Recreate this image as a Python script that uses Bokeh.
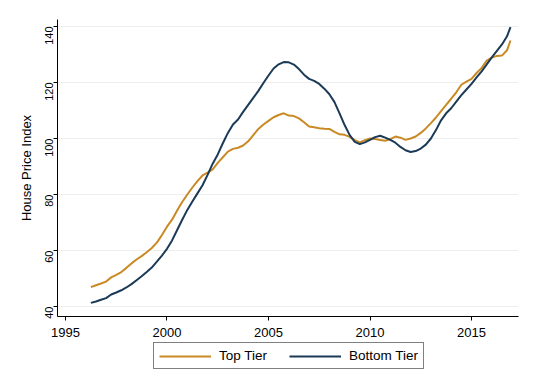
import math
from bokeh.plotting import figure
from bokeh.layouts import column
from bokeh.models import Legend, LegendItem, FixedTicker, Range1d, ColumnDataSource
from bokeh.embed import file_html
from bokeh.resources import INLINE

years = [1996.25, 1996.5, 1996.75, 1997.0, 1997.25, 1997.5, 1997.75, 1998.0, 1998.25, 1998.5, 1998.75,
         1999.0, 1999.25, 1999.5, 1999.75, 2000.0, 2000.25, 2000.5, 2000.75, 2001.0, 2001.25, 2001.5,
         2001.75, 2002.0, 2002.25, 2002.5, 2002.75, 2003.0, 2003.25, 2003.5, 2003.75, 2004.0, 2004.25,
         2004.5, 2004.75, 2005.0, 2005.25, 2005.5, 2005.75, 2006.0, 2006.25, 2006.5, 2006.75, 2007.0,
         2007.25, 2007.5, 2007.75, 2008.0, 2008.25, 2008.5, 2008.75, 2009.0, 2009.25, 2009.5, 2009.75,
         2010.0, 2010.25, 2010.5, 2010.75, 2011.0, 2011.25, 2011.5, 2011.75, 2012.0, 2012.25, 2012.5,
         2012.75, 2013.0, 2013.25, 2013.5, 2013.75, 2014.0, 2014.25, 2014.5, 2014.75, 2015.0, 2015.25,
         2015.5, 2015.75, 2016.0, 2016.25, 2016.5, 2016.75, 2016.92]

top_tier = [46.9, 47.6, 48.2, 48.9, 50.4, 51.3, 52.3, 53.8, 55.4, 56.8, 58.0,
            59.4, 60.9, 62.8, 65.5, 68.5, 71.0, 74.3, 77.3, 80.0, 82.5, 84.8,
            86.8, 87.8, 89.0, 91.3, 93.3, 95.3, 96.3, 96.7, 97.5, 99.0, 101.2,
            103.4, 105.0, 106.3, 107.6, 108.4, 109.0, 108.2, 108.0, 107.2, 105.8, 104.3,
            104.0, 103.7, 103.5, 103.4, 102.4, 101.5, 101.3, 100.6, 99.4, 98.6, 99.4,
            100.0, 99.8, 99.5, 99.2, 99.8, 100.7, 100.3, 99.5, 100.0, 100.7, 102.0,
            103.6, 105.5, 107.5, 109.8, 112.0, 114.2, 116.5, 119.2, 120.3, 121.3, 123.4,
            125.2, 127.8, 128.9, 129.5, 129.6, 131.5, 135.0]

bottom_tier = [41.3, 41.8, 42.4, 43.0, 44.3, 45.0, 45.8, 46.8, 48.0, 49.4, 50.8,
               52.3, 53.9, 56.0, 58.2, 60.6, 63.6, 67.3, 71.0, 74.5, 77.5, 80.4,
               83.3, 87.0, 91.0, 94.3, 98.3, 102.0, 105.0, 106.8, 109.5, 112.0, 114.5,
               117.0, 119.8, 122.5, 125.0, 126.5, 127.3, 127.2, 126.4, 124.8, 122.8, 121.3,
               120.6, 119.5, 117.8, 115.8, 113.0, 109.0, 104.8, 101.2, 98.8, 98.0, 98.6,
               99.5, 100.5, 101.0, 100.3, 99.5, 98.5, 97.0, 95.8, 95.2, 95.5, 96.4,
               97.8, 100.0, 103.0, 106.5, 109.0, 110.8, 113.2, 115.5, 117.5, 119.5, 121.8,
               124.0, 126.5, 129.0, 131.3, 133.6, 136.5, 139.8]

x_ticks = [1995, 2000, 2005, 2010, 2015]
y_ticks = [40, 60, 80, 100, 120, 140]
series_labels = ["Top Tier", "Bottom Tier"]

ORANGE = "#C98A25"
NAVY = "#1B3A57"
FONT = "Liberation Sans"

p = figure(width=530, height=342, output_backend="svg", toolbar_location=None,
           x_range=Range1d(1994.606, 2017.315), y_range=Range1d(36.43, 142.5),
           min_border_left=57, min_border_right=12, min_border_top=19, min_border_bottom=26)
p.outline_line_color = None
p.background_fill_color = "white"
p.border_fill_color = "white"

src = ColumnDataSource(dict(x=years, top=top_tier, bottom=bottom_tier))
p.line("x", "top", source=src, line_color=ORANGE, line_width=2)
p.line("x", "bottom", source=src, line_color=NAVY, line_width=2)

p.xgrid.visible = False
p.ygrid.ticker = FixedTicker(ticks=y_ticks)
p.ygrid.grid_line_color = "#EEEEEE"
p.ygrid.grid_line_width = 1

p.xaxis.ticker = FixedTicker(ticks=x_ticks)
p.yaxis.ticker = FixedTicker(ticks=y_ticks)
for ax in (p.xaxis[0], p.yaxis[0]):
    ax.axis_line_color = "black"
    ax.major_tick_line_color = "black"
    ax.minor_tick_line_color = None
    ax.major_tick_in = 0
    ax.major_tick_out = 4
    ax.major_label_text_font = FONT
    ax.major_label_text_color = "black"
p.xaxis.major_label_text_font_size = "13px"
p.xaxis.major_label_standoff = 7
p.yaxis.major_label_text_font_size = "11px"
p.yaxis.major_label_standoff = 4
p.yaxis.major_label_orientation = math.pi / 2
p.yaxis.axis_label = "House Price Index"
p.yaxis.axis_label_text_font = FONT
p.yaxis.axis_label_text_font_style = "normal"
p.yaxis.axis_label_text_font_size = "13px"
p.yaxis.axis_label_text_color = "black"
p.yaxis.axis_label_standoff = 5

# legend panel below the chart (no axes, ranges away from the data so nothing is drawn)
lp = figure(width=530, height=40, output_backend="svg", toolbar_location=None,
            x_range=Range1d(0, 1), y_range=Range1d(0, 1), min_border=0,
            x_axis_location=None, y_axis_location=None)
lp.outline_line_color = None
lp.grid.visible = False
d1 = lp.line("x", "top", source=src, line_color=ORANGE, line_width=2)
d2 = lp.line("x", "bottom", source=src, line_color=NAVY, line_width=2)
legend = Legend(items=[LegendItem(label=series_labels[0], renderers=[d1]),
                       LegendItem(label=series_labels[1], renderers=[d2])],
                orientation="horizontal", location=(96, 13),
                border_line_color="black", border_line_width=1,
                label_text_font=FONT, label_text_font_size="13.5px",
                label_text_color="black",
                glyph_width=52, glyph_height=14, spacing=22, padding=5, margin=0,
                label_standoff=8, background_fill_alpha=1.0)
lp.add_layout(legend, "center")

layout = column(p, lp, spacing=0)
open("out.html", "w").write(file_html(layout, INLINE))
